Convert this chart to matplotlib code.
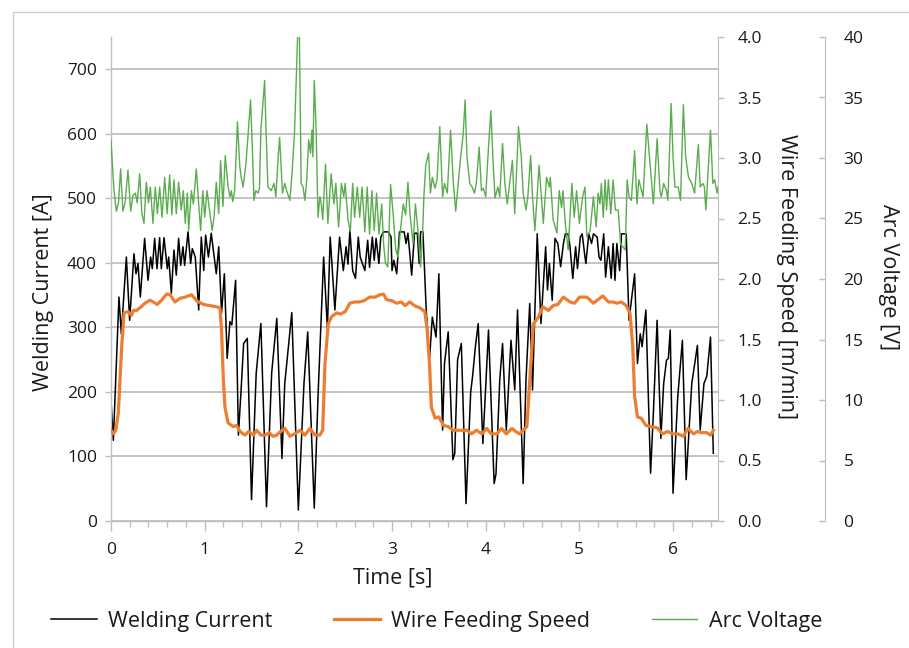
import numpy as np
import matplotlib
matplotlib.use("Agg")
from matplotlib import pyplot as plt
from matplotlib.ticker import MultipleLocator
from matplotlib.patches import Rectangle

plt.rcParams['font.family'] = ['Open Sans', 'DejaVu Sans']

# Welding current [A] (turning points)
t_current = [0.00, 0.025, 0.085, 0.11, 0.164, 0.199, 0.245, 0.267, 0.288, 0.313,
             0.359, 0.395, 0.423, 0.441, 0.466, 0.491, 0.519, 0.537, 0.566, 0.601,
             0.616, 0.644, 0.672, 0.697, 0.722, 0.744, 0.768, 0.786, 0.822, 0.85,
             0.868, 0.90, 0.936, 0.964, 0.99, 1.01, 1.04, 1.07, 1.124, 1.15,
             1.18, 1.21, 1.24, 1.27, 1.29, 1.33, 1.36, 1.39, 1.416, 1.455,
             1.50, 1.55, 1.60, 1.66, 1.715, 1.77, 1.825, 1.855, 1.93, 2.00,
             2.06, 2.10, 2.17, 2.21, 2.27, 2.31, 2.34, 2.39, 2.44, 2.48,
             2.51, 2.53, 2.55, 2.58, 2.61, 2.64, 2.66, 2.71, 2.74, 2.76,
             2.79, 2.81, 2.83, 2.86, 2.88, 2.91, 2.96, 2.99, 3.00, 3.02,
             3.05, 3.08, 3.13, 3.15, 3.17, 3.21, 3.24, 3.27, 3.29, 3.305,
             3.33, 3.365, 3.40, 3.43, 3.47, 3.50, 3.54, 3.56, 3.60, 3.65,
             3.67, 3.70, 3.74, 3.79, 3.84, 3.86, 3.89, 3.92, 3.97, 4.03,
             4.09, 4.11, 4.15, 4.18, 4.22, 4.27, 4.31, 4.34, 4.40, 4.43,
             4.47, 4.50, 4.55, 4.59, 4.64, 4.66, 4.68, 4.71, 4.74, 4.77,
             4.80, 4.83, 4.85, 4.88, 4.90, 4.93, 4.96, 4.98, 5.01, 5.03,
             5.06, 5.07, 5.10, 5.13, 5.15, 5.19, 5.21, 5.23, 5.26, 5.28,
             5.31, 5.34, 5.36, 5.38, 5.40, 5.43, 5.45, 5.50, 5.53, 5.59,
             5.62, 5.65, 5.67, 5.71, 5.76, 5.79, 5.83, 5.87, 5.90, 5.93,
             5.95, 5.97, 6.00, 6.05, 6.10, 6.14, 6.20, 6.26, 6.29, 6.33,
             6.36, 6.40, 6.43]
current = [187, 125, 347, 290, 409, 311, 414, 383, 399, 347,
           438, 373, 409, 391, 438, 391, 439, 391, 439, 391,
           409, 353, 420, 381, 438, 396, 425, 396, 448, 399,
           422, 409, 327, 440, 388, 443, 409, 446, 383, 425,
           322, 383, 252, 309, 304, 373, 133, 206, 275, 283,
           33, 229, 306, 22, 229, 314, 97, 213, 323, 17,
           213, 293, 20, 193, 409, 298, 440, 327, 440, 388,
           425, 398, 451, 388, 376, 440, 409, 388, 435, 393,
           440, 404, 438, 399, 440, 448, 448, 440, 388, 404,
           383, 448, 448, 430, 446, 381, 446, 446, 399, 448,
           448, 327, 250, 316, 285, 383, 141, 244, 293, 95,
           105, 250, 275, 27, 200, 224, 270, 306, 120, 296,
           58, 73, 218, 275, 141, 280, 203, 327, 58, 218,
           337, 203, 445, 306, 425, 358, 399, 342, 438, 430,
           394, 430, 445, 445, 425, 376, 425, 391, 440, 445,
           409, 399, 445, 430, 445, 440, 409, 404, 445, 378,
           425, 376, 430, 373, 430, 388, 445, 445, 311, 383,
           244, 290, 270, 327, 74, 167, 311, 128, 213, 249,
           252, 296, 43, 192, 280, 64, 213, 272, 141, 213,
           224, 285, 105]

# Wire feeding speed [m/min]
t_wire = [0.00, 0.025, 0.05, 0.078, 0.114, 0.139, 0.185, 0.22, 0.24, 0.274,
          0.32, 0.363, 0.416, 0.45, 0.494, 0.54, 0.594, 0.63, 0.683, 0.736,
          0.79, 0.861, 0.914, 0.985, 1.057, 1.128, 1.163, 1.18, 1.20, 1.217,
          1.25, 1.305, 1.34, 1.377, 1.43, 1.47, 1.52, 1.555, 1.60, 1.645,
          1.69, 1.73, 1.77, 1.81, 1.857, 1.91, 1.96, 2.017, 2.07, 2.124,
          2.177, 2.23, 2.26, 2.284, 2.32, 2.355, 2.41, 2.45, 2.50, 2.55,
          2.60, 2.65, 2.70, 2.76, 2.82, 2.87, 2.91, 2.94, 3.00, 3.05,
          3.10, 3.14, 3.19, 3.24, 3.30, 3.35, 3.375, 3.40, 3.42, 3.46,
          3.50, 3.55, 3.60, 3.65, 3.70, 3.76, 3.80, 3.85, 3.90, 3.96,
          4.01, 4.06, 4.12, 4.17, 4.22, 4.28, 4.32, 4.36, 4.40, 4.44,
          4.47, 4.51, 4.56, 4.61, 4.67, 4.72, 4.77, 4.83, 4.90, 4.95,
          5.00, 5.08, 5.15, 5.20, 5.25, 5.31, 5.36, 5.40, 5.45, 5.50,
          5.54, 5.57, 5.59, 5.62, 5.66, 5.71, 5.77, 5.83, 5.89, 5.94,
          6.00, 6.05, 6.11, 6.16, 6.22, 6.26, 6.30, 6.36, 6.40, 6.43]
wire_speed = [0.75, 0.72, 0.75, 0.89, 1.44, 1.72, 1.73, 1.70, 1.74, 1.74,
              1.77, 1.80, 1.825, 1.81, 1.79, 1.825, 1.875, 1.87, 1.81, 1.84,
              1.85, 1.87, 1.82, 1.79, 1.78, 1.77, 1.76, 1.58, 1.16, 0.94,
              0.81, 0.78, 0.79, 0.74, 0.71, 0.74, 0.71, 0.75, 0.71, 0.71,
              0.73, 0.70, 0.71, 0.74, 0.765, 0.70, 0.72, 0.75, 0.71, 0.765,
              0.71, 0.71, 0.75, 1.30, 1.63, 1.69, 1.72, 1.71, 1.73, 1.80,
              1.81, 1.81, 1.82, 1.85, 1.85, 1.87, 1.875, 1.83, 1.82, 1.80,
              1.81, 1.78, 1.81, 1.78, 1.76, 1.73, 1.58, 1.30, 0.94, 0.85,
              0.86, 0.79, 0.78, 0.75, 0.75, 0.75, 0.75, 0.72, 0.75, 0.72,
              0.765, 0.72, 0.72, 0.765, 0.72, 0.765, 0.74, 0.72, 0.75, 0.78,
              1.16, 1.63, 1.68, 1.77, 1.74, 1.78, 1.79, 1.85, 1.81, 1.80,
              1.85, 1.85, 1.80, 1.83, 1.86, 1.81, 1.81, 1.80, 1.81, 1.78,
              1.72, 1.44, 1.03, 0.86, 0.85, 0.79, 0.78, 0.77, 0.72, 0.74,
              0.72, 0.72, 0.70, 0.765, 0.72, 0.74, 0.73, 0.73, 0.71, 0.75]

# Arc voltage [V]
t_voltage = [0.00, 0.03, 0.057, 0.08, 0.103, 0.127, 0.15, 0.181, 0.21, 0.235,
             0.26, 0.28, 0.306, 0.33, 0.352, 0.377, 0.40, 0.42, 0.448, 0.473,
             0.495, 0.52, 0.545, 0.573, 0.60, 0.626, 0.65, 0.672, 0.697, 0.722,
             0.75, 0.772, 0.793, 0.815, 0.829, 0.858, 0.879, 0.911, 0.936, 0.957,
             0.98, 1.00, 1.025, 1.08, 1.10, 1.124, 1.15, 1.17, 1.195, 1.22,
             1.25, 1.27, 1.285, 1.30, 1.32, 1.35, 1.375, 1.39, 1.41, 1.44,
             1.47, 1.49, 1.51, 1.526, 1.545, 1.57, 1.585, 1.60, 1.64, 1.655,
             1.675, 1.71, 1.74, 1.76, 1.785, 1.80, 1.815, 1.83, 1.855, 1.875,
             1.91, 1.935, 1.96, 1.98, 1.996, 2.01, 2.03, 2.05, 2.07, 2.09,
             2.11, 2.13, 2.145, 2.155, 2.17, 2.19, 2.21, 2.23, 2.245, 2.26,
             2.29, 2.315, 2.35, 2.38, 2.40, 2.43, 2.46, 2.485, 2.50, 2.53,
             2.555, 2.58, 2.60, 2.63, 2.655, 2.68, 2.71, 2.735, 2.76, 2.785,
             2.81, 2.835, 2.86, 2.89, 2.91, 2.93, 2.955, 2.985, 3.015, 3.04,
             3.065, 3.09, 3.12, 3.145, 3.17, 3.195, 3.225, 3.25, 3.28, 3.305,
             3.325, 3.34, 3.36, 3.39, 3.41, 3.43, 3.46, 3.48, 3.51, 3.54,
             3.56, 3.59, 3.625, 3.655, 3.68, 3.71, 3.725, 3.76, 3.78, 3.80,
             3.83, 3.855, 3.88, 3.90, 3.93, 3.955, 3.975, 4.00, 4.03, 4.055,
             4.08, 4.10, 4.13, 4.15, 4.18, 4.205, 4.23, 4.26, 4.285, 4.31,
             4.35, 4.38, 4.40, 4.43, 4.45, 4.48, 4.50, 4.525, 4.57, 4.60,
             4.615, 4.65, 4.68, 4.69, 4.72, 4.76, 4.785, 4.81, 4.825, 4.85,
             4.88, 4.92, 4.945, 4.97, 5.00, 5.035, 5.06, 5.08, 5.115, 5.15,
             5.18, 5.20, 5.22, 5.235, 5.255, 5.275, 5.29, 5.31, 5.335, 5.36,
             5.385, 5.415, 5.44, 5.47, 5.49, 5.51, 5.53, 5.555, 5.59, 5.615,
             5.635, 5.68, 5.72, 5.755, 5.79, 5.83, 5.86, 5.875, 5.90, 5.93,
             5.945, 5.98, 6.00, 6.02, 6.055, 6.08, 6.11, 6.135, 6.165, 6.20,
             6.23, 6.27, 6.29, 6.32, 6.335, 6.35, 6.40, 6.425, 6.445, 6.47,
             6.48]
voltage = [31.5, 27.5, 25.6, 26.3, 29.1, 25.6, 26.3, 29.0, 25.6, 26.9,
           27.1, 26.3, 28.7, 25.4, 24.6, 28.0, 26.3, 27.6, 24.6, 27.6,
           25.4, 27.6, 25.1, 28.4, 25.4, 28.6, 25.3, 28.2, 25.4, 28.0,
           25.7, 27.3, 24.6, 27.1, 24.0, 27.3, 26.2, 29.1, 26.2, 24.0,
           27.3, 25.1, 27.3, 24.0, 25.1, 28.0, 25.4, 29.8, 26.0, 30.2,
           27.6, 26.8, 27.3, 26.4, 27.3, 33.0, 29.3, 28.4, 27.6, 29.5,
           32.6, 34.8, 30.6, 26.5, 27.3, 27.1, 27.5, 32.3, 36.4, 32.3,
           27.6, 27.3, 27.9, 26.8, 30.1, 31.7, 29.5, 27.1, 27.9, 27.3,
           26.5, 29.0, 32.3, 37.0, 41.0, 41.0, 27.9, 27.6, 26.5, 28.2,
           31.5, 30.4, 32.3, 30.1, 36.4, 32.3, 25.1, 26.8, 26.2, 24.9,
           29.5, 24.6, 28.7, 26.2, 27.9, 24.3, 27.9, 26.8, 27.9, 24.9,
           23.9, 27.9, 25.1, 27.6, 25.1, 27.6, 23.9, 27.6, 23.7, 27.3,
           24.0, 27.1, 23.7, 26.2, 22.9, 21.3, 21.0, 27.8, 25.1, 22.4,
           21.8, 24.0, 26.2, 25.3, 28.0, 25.1, 22.9, 26.2, 23.7, 21.0,
           23.5, 26.8, 29.4, 30.4, 27.1, 28.4, 27.5, 28.2, 32.6, 26.8,
           27.9, 27.1, 32.3, 27.9, 25.6, 28.2, 29.5, 32.0, 34.8, 30.1,
           27.9, 27.6, 27.1, 27.9, 30.9, 27.3, 27.5, 26.8, 30.9, 33.9,
           29.5, 26.7, 27.6, 26.8, 31.2, 27.9, 26.2, 28.2, 29.8, 25.4,
           32.6, 30.1, 27.1, 25.7, 26.8, 30.2, 26.8, 24.0, 29.4, 26.2,
           24.6, 28.4, 27.6, 28.4, 24.9, 23.8, 27.3, 25.9, 27.3, 24.6,
           22.4, 27.9, 25.1, 27.3, 24.6, 26.8, 27.6, 23.5, 24.0, 26.8,
           24.3, 27.1, 26.2, 27.9, 25.1, 28.2, 25.7, 28.2, 25.4, 28.2,
           25.7, 25.7, 22.9, 22.6, 22.4, 28.2, 26.8, 26.5, 30.6, 26.2,
           28.2, 26.8, 32.8, 29.5, 26.2, 31.6, 27.3, 26.8, 27.9, 27.3,
           26.5, 34.5, 30.1, 27.6, 27.6, 26.5, 34.4, 30.1, 28.4, 27.9,
           27.1, 31.1, 27.6, 27.9, 27.6, 25.7, 32.3, 27.9, 28.2, 27.1,
           27.6]

GRAY = '#bfbfbf'
TXT = '#1a1a1a'

fig = plt.figure(figsize=(9.09, 6.48), dpi=100)
ax = fig.add_axes([111/909, 1-521/648, 607/909, 484/648])
ax2 = ax.twinx()
ax3 = ax.twinx()

#Lines
l1, = ax.plot(t_current, current, color='black', lw=1.1, label='Welding Current')
l2, = ax2.plot(t_wire, wire_speed, color='#ed7d31', lw=2.3, label='Wire Feeding Speed')
l3, = ax3.plot(t_voltage, voltage, color='#5aac4e', lw=1.0, label='Arc Voltage')

ax.set_xlim(0, 6.48)
ax.set_ylim(0, 750)
ax2.set_ylim(0, 4)
ax3.set_ylim(0, 40)

#Left axis and grid
ax.yaxis.set_major_locator(MultipleLocator(100))
ax.xaxis.set_major_locator(MultipleLocator(1))
ax.xaxis.set_minor_locator(MultipleLocator(0.2))
ax.grid(axis='y', color=GRAY, lw=1.3)
ax.set_axisbelow(True)
for s in ['top', 'right']:
    ax.spines[s].set_visible(False)
for s in ['left', 'bottom']:
    ax.spines[s].set_color(GRAY)
    ax.spines[s].set_linewidth(1.0)
ax.tick_params(axis='y', length=4, color=GRAY, width=1.0, pad=6, labelsize=12.5, labelcolor=TXT)
ax.tick_params(axis='x', which='major', length=7, color=GRAY, width=1.0, pad=8, labelsize=12.5, labelcolor=TXT)
ax.tick_params(axis='x', which='minor', length=4, color=GRAY, width=1.0)
ax.set_yticks(range(0, 701, 100))

#Wire speed axis
ax2.yaxis.set_major_locator(MultipleLocator(0.5))
ax2.yaxis.set_major_formatter('{x:.1f}')
for s in ['top', 'left', 'bottom']:
    ax2.spines[s].set_visible(False)
ax2.spines['right'].set_color(GRAY)
ax2.tick_params(axis='y', length=4, color=GRAY, width=1.0, pad=10, labelsize=12.5, labelcolor=TXT)

#Arc voltage axis
ax3.spines['right'].set_position(('axes', 1.177))
for s in ['top', 'left', 'bottom']:
    ax3.spines[s].set_visible(False)
ax3.spines['right'].set_color(GRAY)
ax3.yaxis.set_major_locator(MultipleLocator(5))
ax3.tick_params(axis='y', direction='in', length=4, color=GRAY, width=1.0, pad=13, labelsize=12.5, labelcolor=TXT)

#Titles
fig.text(44/909, 1-292/648, 'Welding Current [A]', rotation=90, ha='center', va='center', fontsize=15.5, color=TXT)
fig.text(786/909, 1-277/648, 'Wire Feeding Speed [m/min]', rotation=270, ha='center', va='center', fontsize=15.5, color=TXT)
fig.text(888/909, 1-277/648, 'Arc Voltage [V]', rotation=270, ha='center', va='center', fontsize=15.5, color=TXT)
fig.text(393/909, 1-578/648, 'Time [s]', ha='center', va='center', fontsize=15.5, color=TXT)

fig.legend(handles=[l1, l2, l3], loc='center', bbox_to_anchor=(437/909, 1-621/648),
           ncol=3, frameon=False, fontsize=15.5, handlelength=2.1, handletextpad=0.55,
           columnspacing=2.87, labelcolor=TXT)

#Outer frame
fig.patches.append(Rectangle((13/909, -0.02), 1.0, 1-12/648+0.02, transform=fig.transFigure,
                             fill=False, edgecolor='#d0d0d0', lw=1.0))

fig.savefig('out.png', dpi=100)
